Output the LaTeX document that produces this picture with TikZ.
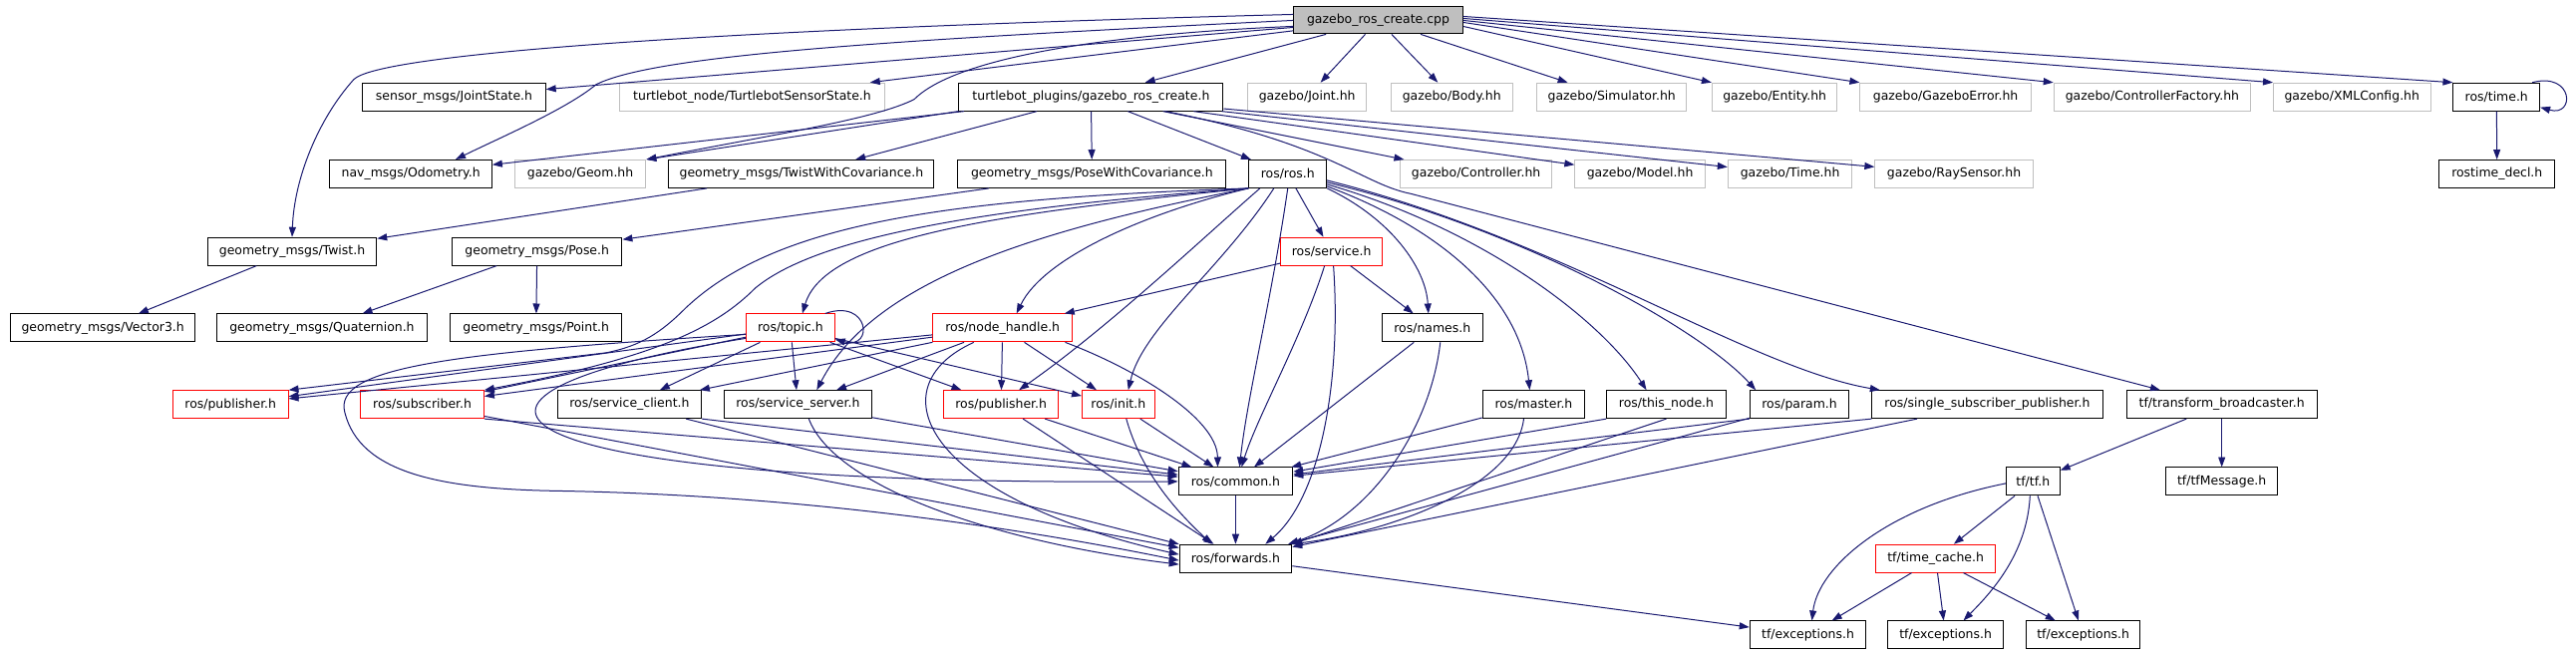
\documentclass[tikz,border=0pt]{standalone}
\usepackage{fontspec}
\setmainfont{DejaVu Sans}
\usepackage{tikz}
\usetikzlibrary{arrows.meta}
\definecolor{edgeblue}{HTML}{191970}
\definecolor{missgray}{HTML}{BFBFBF}
\definecolor{cutred}{HTML}{FF0000}
\tikzset{
  hdr/.style={draw=black, fill=white, line width=1pt, inner sep=0pt,
    minimum height=28pt, font=\fontsize{12.5}{15}\selectfont},
  hdrmiss/.style={hdr, draw=missgray},
  hdrcut/.style={hdr, draw=cutred},
  hdrmain/.style={hdr, fill=missgray, minimum height=27pt},
  incl/.style={draw=edgeblue, line width=1pt, -{Triangle[length=10pt,width=7pt]}}
}

\begin{document}
\begin{tikzpicture}[x=1pt,y=-1pt]
  \fill[white] (0,0) rectangle (2584,659);

  \node[hdrmain, minimum width=170pt] (cpp) at (1387,20.5) {gazebo\_ros\_create.cpp};

  \node[hdr, minimum width=184pt] (jointstate) at (457,97.5) {sensor\_msgs/JointState.h};
  \node[hdrmiss, minimum width=266pt] (sensorstate) at (757,97.5) {turtlebot\_node/TurtlebotSensorState.h};
  \node[hdr, minimum width=266pt] (pluginsh) at (1098,97.5) {turtlebot\_plugins/gazebo\_ros\_create.h};
  \node[hdrmiss, minimum width=119pt] (jointhh) at (1315.5,97.5) {gazebo/Joint.hh};
  \node[hdrmiss, minimum width=122pt] (bodyhh) at (1461,97.5) {gazebo/Body.hh};
  \node[hdrmiss, minimum width=150pt] (simulatorhh) at (1622,97.5) {gazebo/Simulator.hh};
  \node[hdrmiss, minimum width=126pt] (entityhh) at (1786,97.5) {gazebo/Entity.hh};
  \node[hdrmiss, minimum width=172pt] (errorhh) at (1958,97.5) {gazebo/GazeboError.hh};
  \node[hdrmiss, minimum width=198pt] (factoryhh) at (2166,97.5) {gazebo/ControllerFactory.hh};
  \node[hdrmiss, minimum width=158pt] (xmlconfighh) at (2367,97.5) {gazebo/XMLConfig.hh};
  \node[hdr, minimum width=87pt] (rostime) at (2512.5,97.5) {ros/time.h};

  \node[hdr, minimum width=163pt] (odometry) at (413.5,175) {nav\_msgs/Odometry.h};
  \node[hdrmiss, minimum width=132pt] (geomhh) at (584,175) {gazebo/Geom.hh};
  \node[hdr, minimum width=267pt] (twistcov) at (806.5,175) {geometry\_msgs/TwistWithCovariance.h};
  \node[hdr, minimum width=270pt] (posecov) at (1099,175) {geometry\_msgs/PoseWithCovariance.h};
  \node[hdr, minimum width=78pt] (rosh) at (1296,175) {ros/ros.h};
  \node[hdrmiss, minimum width=153pt] (controllerhh) at (1485.5,175) {gazebo/Controller.hh};
  \node[hdrmiss, minimum width=131pt] (modelhh) at (1650.5,175) {gazebo/Model.hh};
  \node[hdrmiss, minimum width=125pt] (timehh) at (1801.5,175) {gazebo/Time.hh};
  \node[hdrmiss, minimum width=159pt] (raysensorhh) at (1966.5,175) {gazebo/RaySensor.hh};
  \node[hdr, minimum width=116pt] (rostimedecl) at (2513,175) {rostime\_decl.h};

  \node[hdr, minimum width=170pt] (twist) at (294,253) {geometry\_msgs/Twist.h};
  \node[hdr, minimum width=171pt] (poseh) at (540.5,253) {geometry\_msgs/Pose.h};
  \node[hdrcut, minimum width=102pt] (service) at (1340,253) {ros/service.h};

  \node[hdr, minimum width=185pt] (vector3) at (103.5,330) {geometry\_msgs/Vector3.h};
  \node[hdr, minimum width=212pt] (quaternion) at (324,330) {geometry\_msgs/Quaternion.h};
  \node[hdr, minimum width=173pt] (pointh) at (539.5,330) {geometry\_msgs/Point.h};
  \node[hdrcut, minimum width=89pt] (topic) at (795.5,330) {ros/topic.h};
  \node[hdrcut, minimum width=140pt] (nodehandle) at (1009,330) {ros/node\_handle.h};
  \node[hdr, minimum width=101pt] (names) at (1441.5,330) {ros/names.h};

  \node[hdrcut, minimum width=116pt] (publishera) at (232,407) {ros/publisher.h};
  \node[hdrcut, minimum width=124pt] (subscriber) at (425,407) {ros/subscriber.h};
  \node[hdr, minimum width=145pt] (serviceclient) at (633.5,407) {ros/service\_client.h};
  \node[hdr, minimum width=148pt] (serviceserver) at (803,407) {ros/service\_server.h};
  \node[hdrcut, minimum width=115pt] (publisherb) at (1007.5,407) {ros/publisher.h};
  \node[hdrcut, minimum width=73pt] (init) at (1125.5,407) {ros/init.h};
  \node[hdr, minimum width=103pt] (master) at (1543.5,407) {ros/master.h};
  \node[hdr, minimum width=120pt] (thisnode) at (1677,407) {ros/this\_node.h};
  \node[hdr, minimum width=100pt] (param) at (1811,407) {ros/param.h};
  \node[hdr, minimum width=232pt] (singlesub) at (2000,407) {ros/single\_subscriber\_publisher.h};
  \node[hdr, minimum width=192pt] (transformbc) at (2236,407) {tf/transform\_broadcaster.h};

  \node[hdr, minimum width=115pt] (common) at (1243.5,484.5) {ros/common.h};
  \node[hdr, minimum width=54pt] (tfh) at (2046,484.5) {tf/tf.h};
  \node[hdr, minimum width=112pt] (tfmessage) at (2236,484.5) {tf/tfMessage.h};

  \node[hdr, minimum width=113pt] (forwards) at (1243.5,562) {ros/forwards.h};
  \node[hdrcut, minimum width=120pt] (timecache) at (1948,562) {tf/time\_cache.h};

  \node[hdr, minimum width=117pt] (exceptionsa) at (1819.5,639) {tf/exceptions.h};
  \node[hdr, minimum width=116pt] (exceptionsb) at (1958,639) {tf/exceptions.h};
  \node[hdr, minimum width=115pt] (exceptionsc) at (2096.5,639) {tf/exceptions.h};

  \foreach \a/\b in {cpp/jointstate, cpp/sensorstate, cpp/pluginsh, cpp/jointhh,
      cpp/bodyhh, cpp/simulatorhh, pluginsh/odometry, pluginsh.south west/geomhh.north east,
      pluginsh/twistcov, pluginsh/posecov, pluginsh/rosh, pluginsh/controllerhh,
      pluginsh/modelhh, pluginsh/timehh, pluginsh/raysensorhh, twistcov/twist,
      posecov/poseh, twist/vector3, poseh/quaternion, poseh/pointh,
      rostime/rostimedecl, rosh/service, service/nodehandle, service/names,
      names/common, topic/publishera, topic/subscriber, topic/serviceclient,
      topic/serviceserver, topic/publisherb, topic/init, nodehandle/publishera,
      nodehandle/subscriber, nodehandle/serviceclient, nodehandle/serviceserver,
      nodehandle/publisherb, nodehandle/init, subscriber.south east/common,
      subscriber/forwards, serviceclient.south east/common, serviceclient/forwards,
      serviceserver/common, publisherb/common, publisherb/forwards, init/common,
      master/common, thisnode.south west/common, thisnode.south/forwards.north east,
      param.south west/common, param/forwards, singlesub.south west/common,
      singlesub/forwards, common/forwards, forwards/exceptionsa, transformbc/tfh,
      transformbc/tfmessage, tfh/timecache, tfh/exceptionsc, timecache/exceptionsa,
      timecache/exceptionsb, timecache/exceptionsc}
    \draw[incl] (\a) -- (\b);

  \draw[incl] ([yshift=-6pt]cpp.east) -- (entityhh.north west);
  \draw[incl] ([yshift=-2pt]cpp.east) -- (errorhh.north west);
  \draw[incl] (cpp.east) -- (factoryhh.north west);
  \draw[incl] ([yshift=2pt]cpp.east) -- (xmlconfighh.north west);
  \draw[incl] ([yshift=4pt]cpp.east) -- (rostime.north west);

  \draw[incl] ([yshift=6pt]cpp.west) .. controls (700,30) and (380,55) .. (356,80)
    .. controls (320,120) and (296,180) .. (twist.north);
  \draw[incl] (cpp.west) .. controls (900,40) and (660,55) .. (600,85)
    .. controls (570,110) and (500,140) .. ([xshift=45pt]odometry.north);
  \draw[incl] ([yshift=-6pt]cpp.west) .. controls (1100,35) and (960,60) .. (920,100)
    .. controls (880,120) and (780,135) .. (geomhh.north east);
  \draw[incl] ([xshift=75pt]pluginsh.south) .. controls (1340,145) and (1370,185) .. (1420,195)
    -- ([xshift=-62pt]transformbc.north);

  \draw[incl] (rostime.north east) ++(-8,0) .. controls (2590,72) and (2592,118)
    .. ([yshift=4pt]rostime.south east);
  \draw[incl] ([xshift=-10pt]topic.north east) .. controls (875,300) and (880,352)
    .. ([yshift=3pt]topic.south east);

  \draw[incl] (rosh.south west) .. controls (1000,215) and (830,240) .. ([xshift=12pt]topic.north);
  \draw[incl] (rosh.south west) .. controls (950,200) and (780,225) .. (690,310)
    .. controls (665,335) and (645,348) .. (610,355) -- (publishera.north east);
  \draw[incl] (rosh.south west) .. controls (980,210) and (820,240) .. (760,290)
    .. controls (720,330) and (660,360) .. (subscriber.north east);
  \draw[incl] (rosh.south west) .. controls (1050,230) and (880,280) .. ([xshift=19pt]serviceserver.north);
  \draw[incl] (rosh.south west) .. controls (1150,215) and (1050,260) .. ([xshift=14pt]nodehandle.north);
  \draw[incl] ([xshift=-28pt]rosh.south) .. controls (1210,240) and (1115,330) .. ([xshift=18pt]publisherb.north);
  \draw[incl] ([xshift=-14pt]rosh.south) .. controls (1230,270) and (1150,330) .. ([xshift=10pt]init.north);
  \draw[incl] (rosh.south) .. controls (1280,300) and (1255,400) .. ([xshift=4pt]common.north);
  \draw[incl] (rosh.south east) .. controls (1400,220) and (1435,270) .. ([xshift=-4pt]names.north);
  \draw[incl] ([yshift=2pt]rosh.south east) .. controls (1450,230) and (1530,300) .. ([xshift=-4pt]master.north);
  \draw[incl] ([yshift=4pt]rosh.south east) .. controls (1490,230) and (1610,320) .. ([xshift=-20pt]thisnode.north);
  \draw[incl] ([yshift=6pt]rosh.south east) .. controls (1530,230) and (1710,330) .. ([xshift=-44pt]param.north);
  \draw[incl] ([yshift=8pt]rosh.south east) .. controls (1570,240) and (1760,370) .. ([xshift=-108pt]singlesub.north);

  \draw[incl] ([yshift=4pt]topic.south west) .. controls (380,400) and (480,490) .. (common.west);
  \draw[incl] ([yshift=8pt]topic.south west) .. controls (450,355) and (335,370) .. (347,415)
    .. controls (362,475) and (440,492) .. (560,494)
    .. controls (800,498) and (1020,530) .. ([yshift=-2pt]forwards.west);
  \draw[incl] ([xshift=63pt]nodehandle.south) .. controls (1140,370) and (1225,420) .. ([xshift=-18pt]common.north);
  \draw[incl] ([xshift=-29pt]nodehandle.south) .. controls (880,390) and (930,500) .. ([yshift=4pt]forwards.west);
  \draw[incl] ([xshift=-7pt]service.south) .. controls (1310,340) and (1265,420) .. ([xshift=6pt]common.north);
  \draw[incl] ([xshift=2pt]service.south) .. controls (1350,380) and (1330,500) .. ([xshift=30pt]forwards.north);
  \draw[incl] ([xshift=8pt]names.south) .. controls (1440,430) and (1380,520) .. ([xshift=-4pt]forwards.north east);
  \draw[incl] ([xshift=8pt]init.south) .. controls (1150,480) and (1190,520) .. ([xshift=-24pt]forwards.north);
  \draw[incl] ([xshift=11pt]serviceserver.south) .. controls (840,490) and (1000,545) .. ([yshift=-6pt]forwards.west);
  \draw[incl] ([xshift=-10pt]master.south) .. controls (1525,490) and (1400,535) .. (forwards.north east);

  \draw[incl] ([yshift=-2pt]tfh.west) .. controls (1900,510) and (1830,570) .. ([xshift=4pt]exceptionsa.north);
  \draw[incl] ([xshift=-3pt]tfh.south) .. controls (2040,560) and (2000,600) .. ([xshift=18pt]exceptionsb.north);
\end{tikzpicture}
\end{document}
